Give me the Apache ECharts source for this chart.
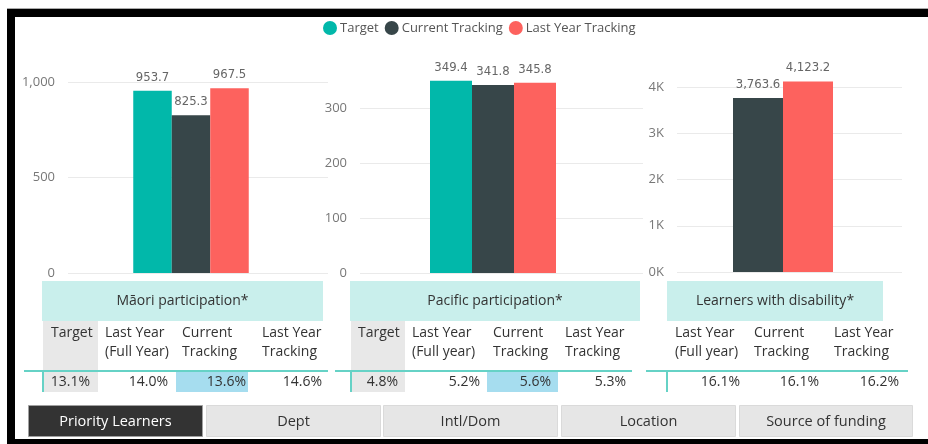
<!DOCTYPE html>
<html>
<head>
<meta charset="utf-8">
<script src="https://cdn.jsdelivr.net/npm/echarts@6/dist/echarts.min.js"></script>
<style>
html,body{margin:0;padding:0;background:#fff;}
#chart{width:928px;height:444px;}
</style>
</head>
<body>
<div id="chart"></div>
<script>
// ---- data ----
const seriesNames = ['Target', 'Current Tracking', 'Last Year Tracking'];
const maoriValues = [953.7, 825.3, 967.5];
const pacificValues = [349.4, 341.8, 345.8];
const disabilityValues = [3763.6, 4123.2]; // Current Tracking, Last Year Tracking
const maoriTitle = 'Māori participation*';
const pacificTitle = 'Pacific participation*';
const disabilityTitle = 'Learners with disability*';
const maoriHeaders = ['Target', 'Last Year\n(Full Year)', 'Current\nTracking', 'Last Year\nTracking'];
const maoriPct = ['13.1%', '14.0%', '13.6%', '14.6%'];
const pacificHeaders = ['Target', 'Last Year\n(Full year)', 'Current\nTracking', 'Last Year\nTracking'];
const pacificPct = ['4.8%', '5.2%', '5.6%', '5.3%'];
const disabilityHeaders = ['Last Year\n(Full year)', 'Current\nTracking', 'Last Year\nTracking'];
const disabilityPct = ['16.1%', '16.1%', '16.2%'];
const buttonLabels = ['Priority Learners', 'Dept', 'Intl/Dom', 'Location', 'Source of funding'];

// ---- style ----
const colors = {'Target': '#01B8AA', 'Current Tracking': '#374649', 'Last Year Tracking': '#FD625E'};
const FONT = '"Open Sans", "Noto Sans", sans-serif';
const LABEL_FONT = '"DejaVu Sans Condensed", "DejaVu Sans", sans-serif';

const chart = echarts.init(document.getElementById('chart'), null, {renderer: 'canvas'});

function fmt(v) {
  return v.toLocaleString('en-US', {minimumFractionDigits: 1, maximumFractionDigits: 1});
}

// frame grids (axis labels + gridlines) and bar grids
const grids = [
  {left: 68, top: 82, width: 260, height: 191},
  {left: 360, top: 108, width: 283, height: 165},
  {left: 677, top: 87, width: 225, height: 185},
  {left: 68, top: 82, width: 246, height: 191},
  {left: 360, top: 53, width: 266, height: 220},
  {left: 677, top: 41, width: 212, height: 231}
];
const frameY = [
  {max: 1000, interval: 500, fmt: v => v.toLocaleString('en-US')},
  {max: 300, interval: 100, fmt: v => String(v)},
  {max: 4000, interval: 1000, fmt: v => (v / 1000) + 'K'}
];
const barMax = [1000, 400, 5000];

const xAxes = [], yAxes = [];
for (let i = 0; i < 6; i++) {
  xAxes.push({type: 'category', gridIndex: i, data: [''], show: false, boundaryGap: true});
}
for (let i = 0; i < 3; i++) {
  yAxes.push({
    type: 'value', gridIndex: i, min: 0, max: frameY[i].max, interval: frameY[i].interval,
    axisLine: {show: false}, axisTick: {show: false},
    axisLabel: {color: '#777', fontSize: 13, fontFamily: FONT, margin: 13, formatter: frameY[i].fmt},
    splitLine: {show: true, lineStyle: {color: '#EAEAEA', width: 1}}
  });
}
for (let i = 0; i < 3; i++) {
  yAxes.push({type: 'value', gridIndex: 3 + i, min: 0, max: barMax[i], show: false, splitLine: {show: false}});
}

const barWidths = [38.5, 42, 50];
function barSeries(name, value, axis, w) {
  return {
    name: name, type: 'bar', xAxisIndex: axis, yAxisIndex: axis,
    data: [value], barWidth: w, barGap: '0%',
    itemStyle: {color: colors[name]},
    label: {show: true, position: 'top', distance: 7, color: '#666', fontSize: 13,
      fontFamily: LABEL_FONT, formatter: p => fmt(p.value)},
    emphasis: {disabled: true}
  };
}
const series = [];
seriesNames.forEach((n, i) => series.push(barSeries(n, maoriValues[i], 3, barWidths[0])));
seriesNames.forEach((n, i) => series.push(barSeries(n, pacificValues[i], 4, barWidths[1])));
seriesNames.slice(1).forEach((n, i) => series.push(barSeries(n, disabilityValues[i], 5, barWidths[2])));

// ---- graphics: frame, tables, buttons ----
const g = [];
// frame
g.push({type: 'rect', shape: {x: 7, y: 8, width: 921, height: 1}, style: {fill: '#AAAAAA'}, silent: true});
g.push({type: 'rect', shape: {x: 7, y: 9, width: 921, height: 8}, style: {fill: '#000'}, silent: true});
g.push({type: 'rect', shape: {x: 7, y: 9, width: 8, height: 435}, style: {fill: '#000'}, silent: true});
g.push({type: 'rect', shape: {x: 7, y: 439, width: 921, height: 5}, style: {fill: '#000'}, silent: true});

function txt(text, x, y, align, vAlign, size, color) {
  return {type: 'text', x: x, y: y, silent: true,
    style: {text: text, fill: color || '#333', fontSize: size || 14, fontFamily: FONT,
      align: align, verticalAlign: vAlign || 'middle', lineHeight: 19}};
}
function rect(x, y, w, h, fill, stroke) {
  const r = {type: 'rect', silent: true, shape: {x: x, y: y, width: w, height: h}, style: {fill: fill}};
  if (stroke) { r.style.stroke = stroke; r.style.lineWidth = 1; }
  return r;
}

const TEAL = '#C9EFEC', GRAYCELL = '#E8E8E8', BLUECELL = '#A6DDEF', LINE = '#66D2C6';

function table(cfg) {
  g.push(rect(cfg.boxX, 281, cfg.boxW, 40, TEAL));
  g.push(txt(cfg.title, cfg.boxX + cfg.boxW / 2, 301, 'center', 'middle', 14, '#333'));
  if (cfg.grayCell) g.push(rect(cfg.grayCell[0], 321, cfg.grayCell[1], 71, GRAYCELL));
  g.push(rect(cfg.blueCell[0], 372, cfg.blueCell[1], 20, BLUECELL));
  g.push(rect(cfg.lineX, 370, cfg.lineW, 2, LINE));
  g.push(rect(cfg.vx, 372, 2, 20, LINE));
  cfg.headers.forEach((h, i) => {
    const two = h.indexOf('\n') >= 0;
    g.push(txt(h, cfg.headerX[i], two ? 342.5 : 333, 'left', 'middle', 14, '#333'));
  });
  cfg.values.forEach((v, i) => {
    g.push(txt(v, cfg.valueX[i], 382, 'right', 'middle', 14, '#333'));
  });
}
table({title: maoriTitle, boxX: 42, boxW: 281, grayCell: [43, 55], blueCell: [176, 72],
  lineX: 24, lineW: 304, vx: 42, headers: maoriHeaders, headerX: [51, 105, 182, 262],
  values: maoriPct, valueX: [90, 168, 246, 322]});
table({title: pacificTitle, boxX: 350, boxW: 290, grayCell: [351, 54], blueCell: [487, 71],
  lineX: 335, lineW: 297, vx: 350, headers: pacificHeaders, headerX: [358, 412, 493, 565],
  values: pacificPct, valueX: [398, 480, 551, 626]});
table({title: disabilityTitle, boxX: 667, boxW: 216, grayCell: null, blueCell: [0, 0],
  lineX: 646, lineW: 262, vx: 666, headers: disabilityHeaders, headerX: [675, 754, 834],
  values: disabilityPct, valueX: [740, 819, 899]});

// buttons
const btnX = [28, 206, 383, 561, 739];
const btnW = [175, 175, 175, 175, 174];
buttonLabels.forEach((b, i) => {
  const active = i === 0;
  g.push(rect(btnX[i] + 0.5, 405.5, btnW[i] - 1, 31, active ? '#333333' : '#E6E6E6', active ? '#A0A0A0' : '#DADADA'));
  g.push(txt(b, btnX[i] + btnW[i] / 2, 421.5, 'center', 'middle', 14.5, active ? '#FFFFFF' : '#333'));
});

chart.setOption({
  animation: false,
  backgroundColor: '#fff',
  legend: {
    data: seriesNames, left: 318, top: 16, icon: 'circle', itemWidth: 14, itemHeight: 14,
    itemGap: 6, textStyle: {color: '#555', fontSize: 13, fontFamily: FONT, padding: [0, 0, 0, -2]}, selectedMode: false
  },
  grid: grids,
  xAxis: xAxes,
  yAxis: yAxes,
  series: series,
  graphic: g
});
</script>
</body>
</html>
